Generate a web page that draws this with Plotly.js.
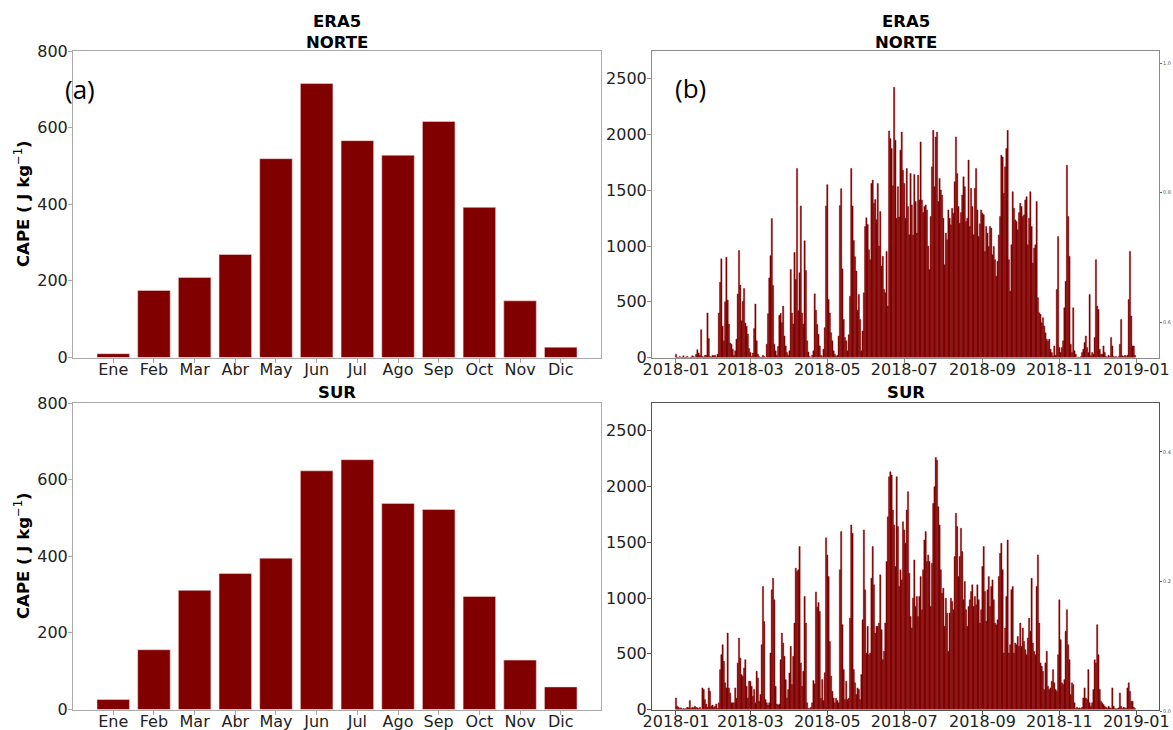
<!DOCTYPE html>
<html>
<head>
<meta charset="utf-8">
<script src="https://cdn.plot.ly/plotly-3.0.1.min.js"></script>
<style>
  html, body { margin: 0; padding: 0; background: #ffffff; }
  #chart { width: 1173px; height: 730px; }
</style>
</head>
<body>
<div id="chart"></div>
<script>
// Month labels for the climatology panels
const months = ['Ene', 'Feb', 'Mar', 'Abr', 'May', 'Jun', 'Jul', 'Ago', 'Sep', 'Oct', 'Nov', 'Dic'];

// Monthly mean CAPE (J kg-1), ERA5
const norteMonthly = [10, 175, 209, 269, 519, 715, 566, 528, 616, 392, 148, 27];
const surMonthly   = [26, 156, 311, 355, 395, 623, 652, 538, 522, 295, 129, 59];

// Daily CAPE (J kg-1) for 2018, one row per month
const norteDaily = [
  30,5,0,10,0,5,15,0,5,10,0,0,5,15,10,0,30,70,40,20,250,10,5,20,20,400,170,10,5,20,15,
  20,5,30,400,675,885,280,150,500,900,515,300,130,120,75,20,60,165,570,960,650,330,505,620,310,280,210,80,
  45,10,40,260,480,150,30,10,0,5,20,10,0,120,393,714,914,1247,646,120,60,20,100,378,395,312,461,193,104,45,20,
  60,790,400,300,943,700,1695,420,760,1360,400,300,1048,780,150,50,10,0,20,60,571,425,297,208,104,20,10,75,268,1360,
  1551,520,400,223,150,60,30,10,20,193,1363,1515,795,342,180,150,60,205,550,1696,1360,1050,905,776,425,565,342,60,238,580,1175,
  1253,1193,967,878,1562,1592,1384,1417,1235,1562,1000,1310,820,908,610,580,952,461,2033,1964,1875,1540,2425,1950,1250,1533,1260,1860,2023,1681,
  1562,1250,1696,1354,1101,1651,1369,1100,1643,1399,1116,1637,1414,1934,1414,1300,1354,1369,1324,1000,789,1265,1711,2038,1533,1979,2023,1400,1607,1503,1458,
  1250,833,1116,1056,1324,1250,1190,1339,1295,1577,1979,1651,1354,1205,1300,1458,1622,1533,1220,1250,1771,1176,1518,1354,1101,1518,1696,1324,1086,1200,1324,
  1295,1280,952,1176,1116,997,1176,1161,923,997,878,729,863,1100,1265,1815,1800,1473,1711,1875,2038,878,595,1012,1488,1339,1235,1220,1146,1300,
  1384,1354,1265,1280,1414,1443,1012,1250,1488,1176,848,982,1012,1399,536,402,387,312,357,283,223,164,149,164,74,45,15,104,20,610,1086,
  89,45,89,150,446,684,1726,1265,908,119,45,446,60,30,0,5,0,10,45,74,134,193,89,45,565,15,45,30,179,878,
  461,431,74,30,30,104,45,10,5,20,10,179,104,10,5,10,0,10,119,342,15,10,20,10,20,521,952,372,104,104,20
];

const surDaily = [
  104,30,20,10,15,5,10,5,10,20,15,80,10,20,15,30,20,15,10,20,5,194,179,90,50,20,194,164,30,40,20,
  30,50,10,60,358,492,582,432,239,194,686,194,149,60,60,60,194,100,418,641,462,313,298,373,447,209,104,254,
  254,209,119,179,60,343,283,75,134,582,1104,790,90,60,40,60,507,1074,1178,984,209,50,40,50,447,686,597,477,268,104,179,
  328,567,224,477,776,1268,1238,1253,1462,418,209,343,1014,776,60,10,10,20,60,260,230,1055,920,960,880,100,270,80,330,1540,
  1387,1193,611,300,164,104,60,100,80,60,1253,1596,761,358,90,254,90,100,820,1656,1581,358,239,134,194,179,90,313,805,1611,1074,
  507,746,492,507,1178,1462,1119,686,746,746,776,1208,716,447,522,776,1327,1730,2088,2133,2103,1790,1656,1283,2088,1641,1104,1253,1163,1685,
  1611,1492,1790,1954,1223,835,731,1000,1342,925,1014,835,1014,1193,895,1253,1521,1596,1327,1387,1327,925,1312,1849,1999,2261,2237,1820,1656,1253,1044,
  1089,746,999,865,522,865,999,969,895,1372,1760,1641,1193,1372,1626,1417,984,1148,895,746,925,984,1059,1119,925,1014,940,1119,984,776,895,
  1283,1462,1059,791,1074,1193,925,1104,1163,984,776,761,805,1193,1402,1492,1253,507,731,1014,1521,507,582,1074,1104,507,597,582,656,567,
  776,567,731,612,537,492,641,820,701,1178,597,522,492,1104,1387,776,418,388,343,179,418,522,209,179,194,254,358,239,179,164,492,
  984,626,239,224,268,701,895,582,447,134,239,224,60,10,20,10,15,10,20,104,194,104,90,358,60,30,60,179,447,418,
  761,492,179,75,60,45,30,20,10,30,15,10,194,30,10,5,10,15,149,30,10,20,15,10,194,239,164,75,75,20,10
];

// Date axis ticks
const dateTicks = ['2018-01-01', '2018-03-01', '2018-05-01', '2018-07-01', '2018-09-01', '2018-11-01', '2019-01-01'];
const dateTickText = ['2018-01', '2018-03', '2018-05', '2018-07', '2018-09', '2018-11', '2019-01'];

// One calendar date per daily value
function dayList(n) {
  const out = [];
  for (let i = 0; i < n; i++) {
    out.push(new Date(Date.UTC(2018, 0, 1 + i)).toISOString().slice(0, 10));
  }
  return out;
}
const days = dayList(norteDaily.length);

const W = 1173, H = 730;
const fx = p => p / W;
const fy = p => 1 - p / H;

const BAR = '#800000';
const FONT = 'DejaVu Sans';
const tickFont = { family: FONT, size: 16, color: '#222222' };

function frame(color) {
  return {
    showline: true, mirror: true, linecolor: color, linewidth: 1,
    ticks: 'outside', ticklen: 4, tickwidth: 1, tickcolor: color,
    showgrid: false, zeroline: false, tickfont: tickFont,
    automargin: false, fixedrange: true
  };
}

const leftDom = [fx(73), fx(601)];
const rightDom = [fx(652), fx(1159)];
const topDom = [fy(357.5), fy(51)];
const botDom = [fy(709.5), fy(403)];

const monthlyBar = (vals, xa, ya) => ({
  type: 'bar', x: months, y: vals, xaxis: xa, yaxis: ya, width: 0.8,
  marker: { color: BAR, line: { color: 'rgba(245,215,215,0.8)', width: 0.7 } },
  hoverinfo: 'x+y'
});

const dailyBar = (vals, xa, ya) => ({
  type: 'bar', x: days, y: vals, xaxis: xa, yaxis: ya, width: 86400000,
  marker: { color: BAR, line: { color: BAR, width: 0.4 } },
  hoverinfo: 'x+y'
});

const traces = [
  monthlyBar(norteMonthly, 'x', 'y'),
  monthlyBar(surMonthly, 'x2', 'y2'),
  dailyBar(norteDaily, 'x3', 'y3'),
  dailyBar(surDaily, 'x4', 'y4'),
  { type: 'scatter', x: [null], y: [null], xaxis: 'x5', yaxis: 'y5', hoverinfo: 'skip', showlegend: false }
];

const monthAxis = (dom, anchor) => Object.assign(frame('#aaaaaa'), {
  domain: dom, anchor: anchor, type: 'category', range: [-0.99, 11.99], ticklabelstandoff: -7
});
const dateAxis = (dom, anchor, color) => Object.assign(frame(color), {
  domain: dom, anchor: anchor, type: 'date', range: ['2017-12-13', '2019-01-19'],
  tickmode: 'array', tickvals: dateTicks, ticktext: dateTickText, ticklabelstandoff: -7
});
const valueAxis = (dom, anchor, color, top, step) => Object.assign(frame(color), {
  domain: dom, anchor: anchor, range: [0, top], dtick: step, ticklabelstandoff: -3
});

const titleFont = { family: FONT, size: 16.5, color: '#000000' };
const yTitle = '<b>CAPE ( J kg</b><sup>−1</sup><b>)</b>';

const layout = {
  width: W, height: H,
  margin: { l: 0, r: 0, t: 0, b: 0 },
  paper_bgcolor: '#ffffff', plot_bgcolor: 'rgba(0,0,0,0)',
  showlegend: false,
  font: { family: FONT, color: '#222222' },

  xaxis: monthAxis(leftDom, 'y'),
  yaxis: valueAxis(topDom, 'x', '#aaaaaa', 800, 200),
  xaxis2: monthAxis(leftDom, 'y2'),
  yaxis2: valueAxis(botDom, 'x2', '#aaaaaa', 800, 200),

  xaxis3: dateAxis(rightDom, 'y3', '#8a8a8a'),
  yaxis3: valueAxis(topDom, 'x3', '#8a8a8a', 2750, 500),
  xaxis4: dateAxis(rightDom, 'y4', '#555555'),
  yaxis4: valueAxis(botDom, 'x4', '#555555', 2750, 500),

  // thin figure-wide scale on the far right
  xaxis5: { domain: [fx(1158), fx(1159)], anchor: 'y5', visible: false, fixedrange: true },
  yaxis5: {
    domain: [fy(711), fy(63)], anchor: 'x5', side: 'right', range: [0, 1], dtick: 0.2,
    tickformat: '.1f', showline: false, showgrid: false, zeroline: false,
    ticks: 'outside', ticklen: 2, tickcolor: '#666666',
    tickfont: { family: FONT, size: 5, color: '#555555' }, automargin: false, fixedrange: true
  },

  annotations: [
    { text: '<b>ERA5</b><br><b>NORTE</b>', x: fx(337), y: fy(31.5), xref: 'paper', yref: 'paper',
      showarrow: false, font: titleFont, xanchor: 'center', yanchor: 'middle' },
    { text: '<b>ERA5</b><br><b>NORTE</b>', x: fx(905.5), y: fy(31.5), xref: 'paper', yref: 'paper',
      showarrow: false, font: titleFont, xanchor: 'center', yanchor: 'middle' },
    { text: '<b>SUR</b>', x: fx(337), y: fy(392.5), xref: 'paper', yref: 'paper',
      showarrow: false, font: titleFont, xanchor: 'center', yanchor: 'middle' },
    { text: '<b>SUR</b>', x: fx(905.5), y: fy(392.5), xref: 'paper', yref: 'paper',
      showarrow: false, font: titleFont, xanchor: 'center', yanchor: 'middle' },
    { text: yTitle, x: fx(22), y: fy(204), xref: 'paper', yref: 'paper', textangle: -90,
      showarrow: false, font: titleFont, xanchor: 'center', yanchor: 'middle' },
    { text: yTitle, x: fx(22), y: fy(556), xref: 'paper', yref: 'paper', textangle: -90,
      showarrow: false, font: titleFont, xanchor: 'center', yanchor: 'middle' },
    { text: '(a)', x: fx(80), y: fy(89), xref: 'paper', yref: 'paper',
      showarrow: false, font: { family: 'Open Sans', size: 26, color: '#000000' }, xanchor: 'center', yanchor: 'middle' },
    { text: '(b)', x: fx(690), y: fy(88), xref: 'paper', yref: 'paper',
      showarrow: false, font: { family: 'Open Sans', size: 26, color: '#000000' }, xanchor: 'center', yanchor: 'middle' }
  ]
};

Plotly.newPlot('chart', traces, layout, { displayModeBar: false, responsive: false, staticPlot: true });
</script>
</body>
</html>
